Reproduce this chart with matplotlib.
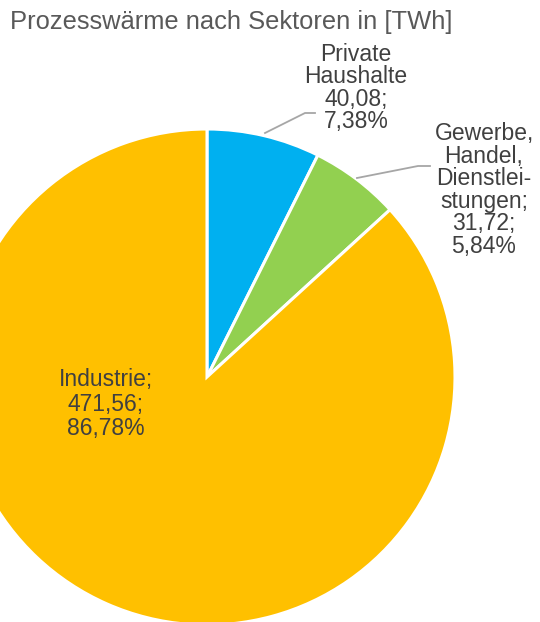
import matplotlib.pyplot as plt

plt.rcParams['font.family'] = ['Liberation Sans', 'DejaVu Sans']

# Prozesswärme je Sektor in TWh
sektoren = ["Private\nHaushalte", "Gewerbe,\nHandel,\nDienstlei-\nstungen;", "Industrie;"]
werte = [40.08, 31.72, 471.56]
anteile = [7.38, 5.84, 86.78]
farben = ["#00B0F0", "#92D050", "#FFC000"]

W, H = 540, 622


def fmt(v):
    return f"{v:.2f}".replace(".", ",")


# pixel y (von oben) -> Achsenkoordinate
def py(y):
    return H - y


fig = plt.figure(figsize=(W / 100, H / 100), dpi=100)
ax = fig.add_axes([0, 0, 1, 1])

ax.pie(werte, colors=farben, startangle=90, counterclock=False,
       center=(207, py(377)), radius=248, frame=True,
       wedgeprops=dict(edgecolor="white", linewidth=2.2))
ax.set_xlim(0, W)
ax.set_ylim(0, H)
ax.set_aspect("equal")
ax.axis("off")

texte = [f"{s}\n{fmt(v)};\n{fmt(p)}%" for s, v, p in zip(sektoren, werte, anteile)]

label_pos = [(356, 88), (484, 190), (106, 404)]
abstand = [0.98, 0.98, 1.08]
for t, (x, y), ls in zip(texte, label_pos, abstand):
    ax.text(x, py(y), t, ha="center", va="center", fontsize=16.5,
            color="#404040", linespacing=ls)

# Führungslinien
ax.plot([265, 305, 315], [py(133), py(113), py(113)], color="#A6A6A6", lw=1.3)
ax.plot([357, 418, 430], [py(178), py(166), py(166)], color="#A6A6A6", lw=1.3)

ax.text(10, py(22), "Prozesswärme nach Sektoren in [TWh]", ha="left", va="center",
        fontsize=18.4, color="#595959")

fig.savefig("out.png", dpi=100)
